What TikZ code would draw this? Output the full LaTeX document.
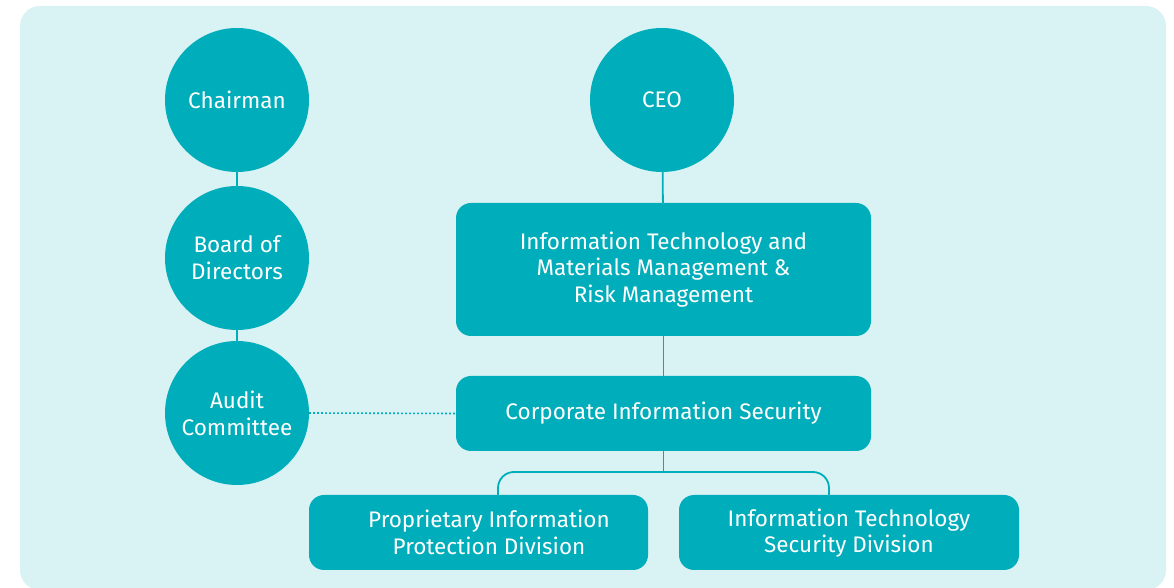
\documentclass[tikz,border=0pt]{standalone}
\usepackage{fontspec}
\setmainfont{Fira Sans}
\usetikzlibrary{positioning}
\definecolor{tealfill}{HTML}{00ADBA}
\definecolor{panelbg}{HTML}{D9F2F4}
\tikzset{
  role/.style={circle, fill=tealfill, text=white, minimum size=144pt, inner sep=0pt, align=center, font=\fontsize{22.5}{27}\selectfont},
  unit/.style={rounded corners=15pt, fill=tealfill, text=white, align=center, inner sep=0pt, font=\fontsize{22.5}{26.5}\selectfont},
  link/.style={draw=tealfill, line width=1.8pt},
}
\begin{document}
\begin{tikzpicture}[x=1pt, y=1pt, line join=round, line cap=round]
  \useasboundingbox (0,0) rectangle (1174,588);
  \fill[panelbg, rounded corners=20pt] (20,-2) rectangle (1166,582);
  % left column
  \node[role] (chair) at (237,488) {Chairman};
  \node[role] (board) at (237,330) {Board of\\Directors};
  \node[role] (audit) at (237,175) {Audit\\Committee};
  % right column
  \node[role] (ceo) at (662,488) {CEO};
  \node[unit, minimum width=415pt, minimum height=133pt] (itmm) at (663.5,318.5)
    {Information Technology and\\Materials Management \&\\Risk Management};
  \node[unit, minimum width=415pt, minimum height=75pt] (cis) at (663.5,174.5)
    {Corporate Information Security};
  \node[unit, minimum width=339pt, minimum height=75pt] (pipd) at (478.5,55.5)
    {\hspace*{21pt}Proprietary Information\\\hspace*{21pt}Protection Division};
  \node[unit, minimum width=340pt, minimum height=75pt] (itsd) at (849,55.5)
    {\strut Information Technology\\Security Division};
  % connectors
  \draw[link] (chair) -- (board);
  \draw[link] (board) -- (audit);
  \draw[link] (ceo) -- (itmm);
  \draw[link] (itmm) -- (cis);
  \draw[draw=tealfill, line width=1.6pt, dash pattern=on 1.6pt off 2.4pt, line cap=butt] (audit.east) -- (cis.west);
  \coordinate (fork) at (663.5,116);
  \coordinate (legL) at (498,0);
  \coordinate (legR) at (829,0);
  \draw[link] (cis.south) -- (fork);
  \draw[link, rounded corners=16pt] (pipd.north -| legL) |- (fork) -| (itsd.north -| legR);
\end{tikzpicture}
\end{document}
